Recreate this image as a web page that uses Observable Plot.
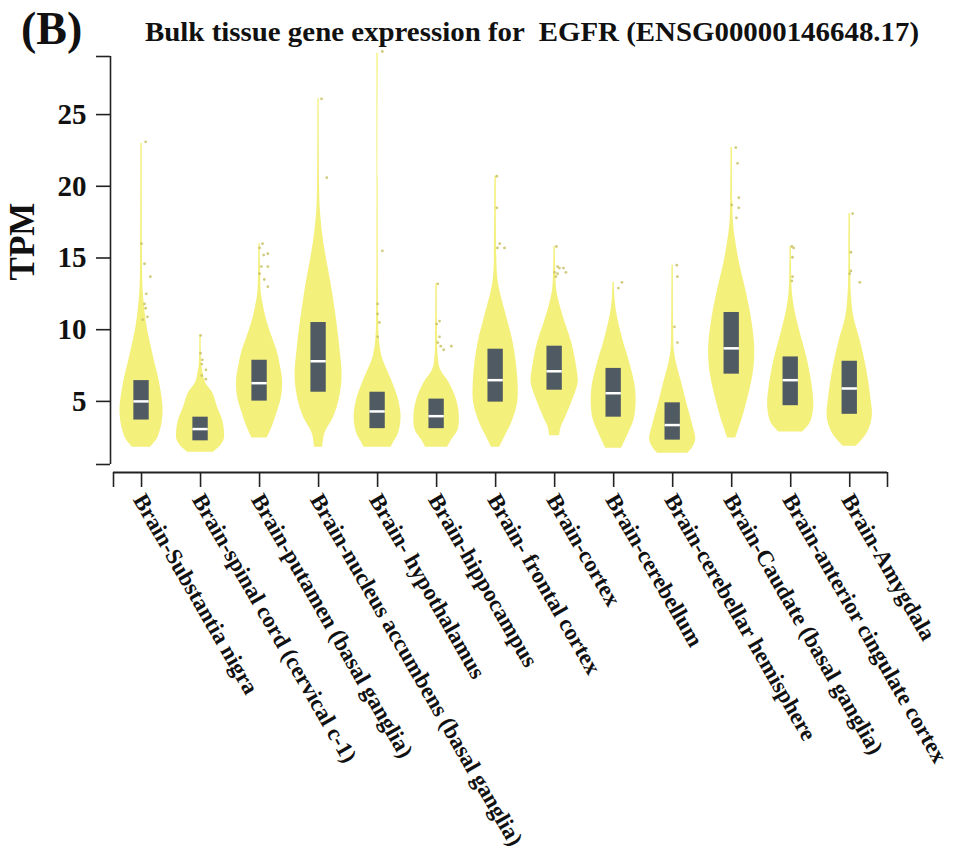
<!DOCTYPE html>
<html><head><meta charset="utf-8">
<script src="https://cdn.jsdelivr.net/npm/d3@7"></script>
<script src="https://cdn.jsdelivr.net/npm/@observablehq/plot@0.6"></script>
<style>
body{margin:0;background:#fff;font-family:"Liberation Serif","Times New Roman",serif;color:#111;}
#head{position:relative;width:958px;height:50px;}
#panel{position:absolute;left:21px;top:6px;font-weight:bold;font-size:46px;line-height:1;}
#title{position:absolute;left:145px;top:19px;font-weight:bold;font-size:26.5px;white-space:pre;transform:scaleX(1.09);transform-origin:0 0;line-height:1;}
</style></head><body>
<div id="head"><div id="panel">(B)</div><div id="title">Bulk tissue gene expression for  EGFR (ENSG00000146648.17)</div></div>
<div id="chart"></div>
<script>
// ---- data ----
const tissues = ["Brain-Substantia nigra", "Brain-spinal cord (cervical c-1)", "Brain-putamen (basal ganglia)",
  "Brain-nucleus accumbens (basal ganglia)", "Brain- hypothalamus", "Brain-hippocampus", "Brain- frontal cortex",
  "Brain-cortex", "Brain-cerebellum", "Brain-cerebellar hemisphere", "Brain-Caudate (basal ganglia)",
  "Brain-anterior cingulate cortex", "Brain-Amygdala"];
const q1     = [3.70, 2.25, 5.02, 5.64, 3.10, 3.10, 4.95, 5.78, 3.90, 2.30, 6.90, 4.70, 4.10];
const median = [5.00, 3.07, 6.27, 7.80, 4.30, 3.97, 6.48, 7.10, 5.57, 3.35, 8.70, 6.48, 5.90];
const q3     = [6.45, 3.90, 7.87, 10.5, 5.64, 5.16, 8.64, 8.85, 7.30, 4.90, 11.2, 8.10, 7.80];
// violin density profiles: [TPM, relative density (half width)]
const densSubstantia = [[1.8,9],[2.3,15],[2.8,18],[3.5,20.5],[4.5,21.5],[5.5,20],[6.5,17.5],[7.5,14],[8.4,11],[9.5,7.5],[10.7,4.5],[12.5,1.8],[14,1.1],[23.0,0.7]];
const densSpinal     = [[1.46,13],[1.9,20],[2.3,23.5],[2.8,24],[3.7,22],[4.6,17],[5.6,12],[6.3,5],[7.0,2.5],[7.6,1.2],[9.6,0.7]];
const densPutamen    = [[2.44,7.5],[3.2,12.5],[4.2,17.5],[5.3,22],[6.5,23],[7.4,21],[8.4,18],[9.5,12.5],[10.7,7],[11.8,3.5],[12.5,1.8],[14,1.0],[16.0,0.7]];
const densAccumbens  = [[1.8,4],[2.8,6.5],[3.9,15],[5.1,20.5],[6.7,23.5],[8.6,21.5],[10.9,17.5],[13.2,12.5],[15.5,6.5],[16.7,4],[18.3,1.8],[20,1.0],[26.1,0.7]];
const densHypothal   = [[1.8,13.5],[2.2,16.5],[2.8,21],[3.9,23.5],[5.1,21],[6.3,15],[7.2,9.5],[8.1,4.5],[9.3,1.8],[11,1.0],[29.3,0.7]];
const densHippo      = [[1.8,11],[2.3,15],[3.0,21.5],[4.2,22.5],[5.3,19],[6.3,12.5],[7.2,4],[8.1,1.6],[9.5,1.0],[13.2,0.7]];
const densFrontal    = [[1.8,4],[2.5,9],[3.5,16],[4.9,22],[6.7,22],[9.1,17.5],[10.9,11],[12.8,4],[13.7,2],[15,1.2],[20.7,0.7]];
const densCortex     = [[2.6,5],[3.2,6.5],[3.9,11],[5.1,18],[6.3,23.5],[7.4,22],[9.1,17],[10.5,10.5],[11.8,5],[12.8,2],[14,1.1],[15.8,0.7]];
const densCerebellum = [[1.74,8],[2.8,15],[3.9,21],[5.8,22],[7.7,16],[9.1,10],[10.5,5],[11.4,2.5],[12.3,1.2],[13.3,0.7]];
const densCerebHemi  = [[1.39,15],[1.74,19.5],[2.3,23],[3.5,19.5],[4.9,14],[6.3,9],[7.7,3.7],[8.6,1.6],[10,1.0],[14.5,0.7]];
const densCaudate    = [[2.44,4],[3.9,11],[5.6,17.5],[7.2,22],[8.8,23],[10.9,19.5],[12.8,14],[14.6,8],[16.4,3.5],[17.4,1.8],[19,1.0],[22.7,0.7]];
const densCingulate  = [[2.86,11.7],[3.5,19.5],[4.6,23],[6.3,21],[8.1,16],[10.0,8.7],[11.4,4],[12.5,1.8],[13.5,1.1],[15.8,0.7]];
const densAmygdala   = [[1.88,6.7],[2.8,17.5],[3.9,22.5],[5.3,21],[7.2,17],[9.1,11],[10.9,4],[12.3,1.8],[13.5,1.1],[18.1,0.7]];
const densities = [densSubstantia, densSpinal, densPutamen, densAccumbens, densHypothal, densHippo, densFrontal,
  densCortex, densCerebellum, densCerebHemi, densCaudate, densCingulate, densAmygdala];
// outlier samples: [tissue index, TPM, jitter]
const outliers = [
  [0,23.1,0.07],[0,16.0,0],[0,14.6,0.05],[0,13.7,0.15],[0,12.5,0.08],[0,11.8,0.05],[0,11.5,0.07],[0,10.9,0.1],[0,10.7,0.02],
  [1,9.6,0],[1,8.36,0],[1,7.9,0.03],[1,7.6,0.02],[1,7.2,0.09],[1,6.8,0.02],[1,6.55,0.09],
  [2,16.0,0.05],[2,15.7,0],[2,15.2,0.07],[2,15.3,0.14],[2,14.4,0.03],[2,14.4,0.14],[2,13.9,0],[2,13.5,0.08],[2,13.0,0.14],
  [3,26.1,0.05],[3,20.6,0.14],
  [4,29.4,0.08],[4,15.5,0.08],[4,11.8,0],[4,11.1,0],[4,10.5,0.03],[4,9.5,0],
  [5,13.2,0.02],[5,10.6,0.05],[5,10.4,0],[5,9.5,0.05],[5,9.1,0.02],[5,8.85,0.07],[5,8.6,0.12],[5,8.85,0.25],
  [6,20.7,0.02],[6,18.5,0.02],[6,16.0,0.07],[6,15.7,0.03],[6,15.7,0.15],
  [7,15.8,0.03],[7,14.4,0.05],[7,14.3,0.08],[7,14.0,0],[7,13.9,0.05],[7,14.3,0.15],[7,14.0,0.19],[7,13.7,0.02],
  [8,13.3,0.14],[8,12.9,0.08],
  [9,14.5,0.07],[9,13.7,0.08],[9,10.2,0.03],[9,9.1,0.08],
  [10,22.7,0.07],[10,21.6,0.1],[10,19.2,0.12],[10,18.7,0],[10,18.5,0.12],[10,17.8,0.08],
  [11,15.8,0.02],[11,15.7,0.05],[11,15.05,0.03],[11,13.7,0.03],[11,13.4,0.02],
  [12,18.1,0.05],[12,15.4,0.02],[12,14.1,0.02],[12,13.9,0],[12,13.3,0.17]
];
const yTickLabels = [5, 10, 15, 20, 25];

// ---- layout constants ----
const X_LO = -0.475, X_HI = 12.64, Y_LO = 0.6, Y_HI = 29.05;
const densUnit = 1 / 59;   // density -> category units
const boxHalf = 0.13;

const violinRows = densities.flatMap((prof, i) => prof.map(([v, w]) => ({i, v, w})));
const boxRows = tissues.map((t, i) => ({i, q1: q1[i], med: median[i], q3: q3[i]}));
const outlierRows = outliers.map(([i, v, j]) => ({i, v, j}));
const xTickVals = [X_LO, ...tissues.map((t, i) => i), X_HI];
const yTickVals = [Y_LO, ...yTickLabels, Y_HI];

const axisColor = "#222";
const chart = Plot.plot({
  width: 958, height: 811,
  marginLeft: 113, marginRight: 71, marginTop: 6, marginBottom: 397,
  x: {type: "linear", domain: [X_LO, X_HI], axis: null},
  y: {domain: [Y_LO, Y_HI], axis: null},
  style: {fontFamily: "'Liberation Serif','Times New Roman',serif", background: "white", color: "#111"},
  marks: [
    Plot.areaX(violinRows, {y: "v", x1: d => d.i - d.w * densUnit, x2: d => d.i + d.w * densUnit, z: "i",
      fill: "#f4f07c", curve: "catmull-rom"}),
    Plot.dot(outlierRows, {x: d => d.i + d.j, y: "v", r: 1.4, fill: "#c9c266", fillOpacity: 0.85, stroke: null}),
    Plot.rect(boxRows, {x1: d => d.i - boxHalf, x2: d => d.i + boxHalf, y1: "q1", y2: "q3", fill: "#505a62"}),
    Plot.ruleY(boxRows, {y: "med", x1: d => d.i - boxHalf, x2: d => d.i + boxHalf, stroke: "white", strokeWidth: 2.5}),
    // y axis
    Plot.ruleX([X_LO], {dx: -3, stroke: axisColor, strokeWidth: 1.6}),
    Plot.axisY({ticks: yTickVals, tickSize: 14, tickPadding: 10, dx: -3, fontSize: 29, fontWeight: "bold",
      stroke: axisColor, strokeWidth: 1.6, label: null,
      tickFormat: d => yTickLabels.includes(d) ? String(d) : ""}),
    Plot.text(["TPM"], {frameAnchor: "left", text: d => d, rotate: -90, lineAnchor: "bottom", textAnchor: "middle",
      dx: -80, dy: -19, fontSize: 35, fontWeight: "bold"}),
    // x axis
    Plot.ruleY([Y_LO], {x1: () => X_LO, x2: () => X_HI, dy: 8, stroke: axisColor, strokeWidth: 1.8}),
    Plot.ruleX(xTickVals, {x: d => d, y1: () => Y_LO, y2: () => Y_LO, insetTop: 8, insetBottom: -23,
      stroke: axisColor, strokeWidth: 1.6}),
    Plot.text(tissues, {x: (d, i) => i, y: () => Y_LO, text: d => d, rotate: 60, textAnchor: "start",
      lineAnchor: "bottom", dx: -9, dy: 35, fontSize: 23, fontWeight: "bold", fill: "#111"})
  ]
});
document.getElementById("chart").appendChild(chart);
</script>
</body></html>
